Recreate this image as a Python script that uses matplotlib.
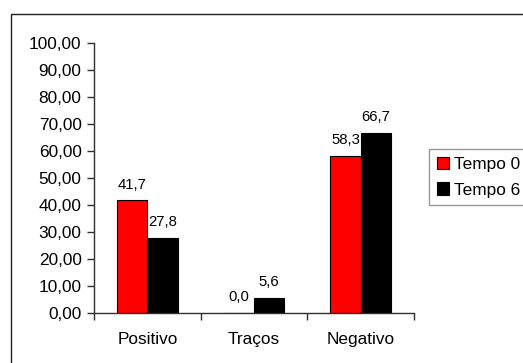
import numpy as np
import matplotlib.pyplot as plt
from matplotlib.lines import Line2D

plt.rcParams['font.family'] = ['Liberation Sans', 'DejaVu Sans']

categories = ['Positivo', 'Traços', 'Negativo']
tempo0 = [41.7, 0.0, 58.3]
tempo6 = [27.8, 5.6, 66.7]
series_names = ['Tempo 0', 'Tempo 6']
y_ticks = [0, 10, 20, 30, 40, 50, 60, 70, 80, 90, 100]

W, H = 523, 363
fig = plt.figure(figsize=(W / 100, H / 100), dpi=100)
ax = fig.add_axes([94 / W, 1 - 313 / H, (414 - 94) / W, (313 - 43) / H])

# outer chart frame: only the left and top edges fall inside the image
fx, fy = 10.5 / W, 1 - 13.5 / H
fig.add_artist(Line2D([fx, fx, 1.0], [0.0, fy, fy], transform=fig.transFigure,
                      color='#202020', linewidth=1.0))

x = np.arange(len(categories))
bw = 0.285
b0 = ax.bar(x - bw / 2, tempo0, bw, color='#ff0000', edgecolor='black', linewidth=0.8, label=series_names[0], zorder=2)
b1 = ax.bar(x + bw / 2, tempo6, bw, color='black', edgecolor='black', linewidth=0.8, label=series_names[1], zorder=2)

# value labels sit under the bars so neighbouring bars can hide them
for bars, vals in ((b0, tempo0), (b1, tempo6)):
    for rect, v in zip(bars, vals):
        ax.annotate(f'{v:.1f}'.replace('.', ','),
                    (rect.get_x() + rect.get_width() / 2, rect.get_height()),
                    xytext=(0, 8.5), textcoords='offset points',
                    ha='center', va='baseline', fontsize=10.7, zorder=1)

ax.set_xlim(-0.5, 2.5)
ax.set_ylim(0, 100)
ax.set_yticks(y_ticks)
ax.set_yticklabels([f'{t:.2f}'.replace('.', ',') for t in y_ticks], fontsize=12.4)
ax.set_xticks([-0.5, 0.5, 1.5, 2.5])
ax.set_xticklabels([])
ax.set_xticks(x, minor=True)
ax.set_xticklabels(categories, minor=True, fontsize=12.4)
ax.tick_params(axis='x', which='minor', length=0, pad=14)
ax.tick_params(axis='both', which='major', direction='out', length=5, width=1, color='#303030')
ax.tick_params(axis='y', pad=4)

for s in ('top', 'right'):
    ax.spines[s].set_visible(False)
for s in ('left', 'bottom'):
    ax.spines[s].set_color('#303030')
    ax.spines[s].set_linewidth(1)

leg = fig.legend(handles=[b0, b1], labels=series_names, loc='upper left',
                 bbox_to_anchor=(429 / W, 1 - 149 / H), borderaxespad=0,
                 fontsize=12.4, handlelength=0.7, handleheight=0.7,
                 handletextpad=0.3, labelspacing=0.62, borderpad=0.45,
                 fancybox=False, frameon=True)
leg.get_frame().set_edgecolor('#808080')
leg.get_frame().set_linewidth(1)

fig.savefig('out.png', dpi=100)
